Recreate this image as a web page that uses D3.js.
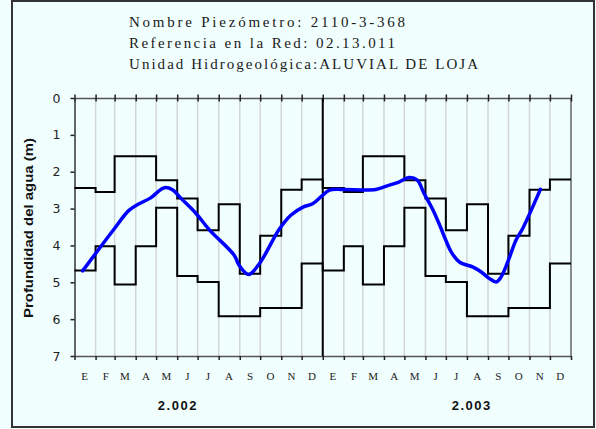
<!DOCTYPE html>
<html>
<head>
<meta charset="utf-8">
<script src="https://cdn.jsdelivr.net/npm/d3@7"></script>
<style>
  body { margin: 0; background: #f2fdfd; }
  svg { display: block; }
</style>
</head>
<body>
<div id="vis"></div>
<script>
var width = 596, height = 429;

// header lines
var titleLines = [
  "Nombre Piezómetro: 2110-3-368",
  "Referencia en la Red: 02.13.011",
  "Unidad Hidrogeológica:ALUVIAL DE LOJA"
];
var titleWidths = [276, 266, 349];

// month initials and years
var months = ["E", "F", "M", "A", "M", "J", "J", "A", "S", "O", "N", "D"];
var years = [2002, 2003];
var yearLabels = ["2.002", "2.003"];

// monthly envelope (same for each year), depth in m
var minDepth = [2.44, 2.55, 1.58, 1.58, 2.23, 2.73, 3.59, 2.88, 4.77, 3.74, 2.49, 2.21];
var maxDepth = [4.68, 4.02, 5.06, 4.02, 2.98, 4.83, 4.99, 5.92, 5.92, 5.70, 5.70, 4.49];

// measured level
var obsDates = ["2002-01-13", "2002-02-28", "2002-03-22", "2002-04-06", "2002-04-23", "2002-05-08",
  "2002-05-15", "2002-05-25", "2002-06-07", "2002-06-29", "2002-07-18", "2002-08-24", "2002-08-31",
  "2002-09-14", "2002-09-30", "2002-10-29", "2002-11-15", "2002-12-03", "2002-12-17", "2002-12-30",
  "2003-01-11", "2003-01-30", "2003-03-20", "2003-04-08", "2003-04-23", "2003-05-08", "2003-05-20",
  "2003-05-30", "2003-06-11", "2003-06-24", "2003-06-29", "2003-07-09", "2003-07-21", "2003-08-10",
  "2003-08-22", "2003-09-03", "2003-09-13", "2003-09-20", "2003-10-01", "2003-10-12", "2003-10-22",
  "2003-11-17"];
var obsDepth = [4.69, 3.56, 3.05, 2.87, 2.71, 2.48,
  2.43, 2.49, 2.73, 3.14, 3.57, 4.27, 4.54,
  4.79, 4.49, 3.56, 3.18, 2.96, 2.87, 2.67,
  2.50, 2.48, 2.48, 2.37, 2.28, 2.16, 2.23,
  2.59, 3.00, 3.54, 3.77, 4.18, 4.45, 4.59,
  4.72, 4.90, 4.99, 4.86, 4.40, 3.86, 3.54,
  2.48];

var yTicks = [0, 1, 2, 3, 4, 5, 6, 7];

var parse = d3.timeParse("%Y-%m-%d");
var plot = {left: 74.5, right: 571, top: 98, bottom: 356};

var x = d3.scaleTime()
  .domain([new Date(2002, 0, 1), new Date(2004, 0, 1)])
  .range([plot.left, plot.right]);
var y = d3.scaleLinear().domain([0, 7]).range([plot.top, plot.bottom]);

var svg = d3.select("#vis").append("svg")
  .attr("width", width).attr("height", height);

svg.append("rect")
  .attr("x", 0).attr("y", 0).attr("width", width).attr("height", height)
  .attr("fill", "#f1fefe");

// outer frame
svg.append("rect")
  .attr("x", 12).attr("y", 1).attr("width", 582).attr("height", 426)
  .attr("fill", "none").attr("stroke", "#333").attr("stroke-width", 2);

// title
svg.selectAll(".title").data(titleLines).enter()
  .append("text")
  .attr("class", "title")
  .attr("x", 129)
  .attr("y", function(d, i) { return 27 + i * 20.8; })
  .attr("textLength", function(d, i) { return titleWidths[i]; })
  .attr("lengthAdjust", "spacing")
  .style("font-family", "'Liberation Serif', serif")
  .style("font-size", "15px")
  .attr("fill", "#1a1a1a")
  .text(function(d) { return d; });

// month boundaries
var monthStarts = d3.timeMonth.range(new Date(2002, 0, 1), new Date(2004, 0, 2));

svg.append("g").selectAll("line").data(monthStarts.slice(1, -1)).enter()
  .append("line")
  .attr("x1", function(d) { return x(d); }).attr("x2", function(d) { return x(d); })
  .attr("y1", plot.top).attr("y2", plot.bottom)
  .attr("stroke", "#d2d6d6").attr("stroke-width", 1.5);

// right border
svg.append("line")
  .attr("x1", plot.right).attr("x2", plot.right)
  .attr("y1", plot.top).attr("y2", plot.bottom)
  .attr("stroke", "#666").attr("stroke-width", 1.5);

// top axis (crossing ticks)
var topAxis = svg.append("g")
  .attr("transform", "translate(0," + plot.top + ")")
  .call(d3.axisTop(x).tickValues(monthStarts).tickSize(3.5).tickSizeOuter(0).tickFormat(""));
topAxis.selectAll(".tick line").attr("y2", -3.5).attr("y1", 3.5)
  .attr("stroke", "#222").attr("stroke-width", 1.5);
topAxis.select(".domain").attr("stroke", "#555").attr("stroke-width", 1.5);

// bottom axis
var botAxis = svg.append("g")
  .attr("transform", "translate(0," + plot.bottom + ")")
  .call(d3.axisBottom(x).tickValues(monthStarts).tickSize(4).tickSizeOuter(0).tickFormat(""));
botAxis.selectAll(".tick line").attr("stroke", "#222").attr("stroke-width", 1.5);
botAxis.select(".domain").attr("stroke", "#555").attr("stroke-width", 1.5);

// left axis
var leftAxis = svg.append("g")
  .attr("transform", "translate(" + plot.left + ",0)")
  .call(d3.axisLeft(y).tickValues(yTicks).tickSize(4).tickSizeOuter(0).tickPadding(10)
    .tickFormat(d3.format("d")));
leftAxis.select(".domain").attr("stroke", "#333").attr("stroke-width", 1.5);
leftAxis.selectAll(".tick line").attr("stroke", "#222").attr("stroke-width", 1.5);
leftAxis.selectAll(".tick text")
  .style("font-family", "'DejaVu Sans', sans-serif")
  .style("font-size", "12.5px")
  .attr("fill", "#222");

// separator between years
svg.append("line")
  .attr("x1", x(new Date(2003, 0, 1))).attr("x2", x(new Date(2003, 0, 1)))
  .attr("y1", plot.top).attr("y2", plot.bottom)
  .attr("stroke", "#000").attr("stroke-width", 2);

// envelope step lines
function stepData(vals) {
  var pts = [];
  years.forEach(function(yr) {
    vals.forEach(function(v, m) { pts.push({date: new Date(yr, m, 1), v: v}); });
  });
  pts.push({date: new Date(2004, 0, 1), v: vals[vals.length - 1]});
  return pts;
}
var stepLine = d3.line()
  .x(function(d) { return x(d.date); })
  .y(function(d) { return y(d.v); })
  .curve(d3.curveStepAfter);

[minDepth, maxDepth].forEach(function(vals) {
  svg.append("path")
    .datum(stepData(vals))
    .attr("d", stepLine)
    .attr("fill", "none")
    .attr("stroke", "#000")
    .attr("stroke-width", 2);
});

// measured series
var obs = obsDates.map(function(d, i) { return {date: parse(d), v: obsDepth[i]}; });
svg.append("path")
  .datum(obs)
  .attr("d", d3.line()
    .x(function(d) { return x(d.date); })
    .y(function(d) { return y(d.v); })
    .curve(d3.curveCatmullRom.alpha(0.5)))
  .attr("fill", "none")
  .attr("stroke", "#0000ff")
  .attr("stroke-width", 3.5)
  .attr("stroke-linecap", "round")
  .attr("stroke-linejoin", "round");

// month labels
var monthMids = [];
years.forEach(function(yr) {
  months.forEach(function(m, i) { monthMids.push({date: new Date(yr, i, 16), label: m}); });
});
svg.selectAll(".month").data(monthMids).enter()
  .append("text")
  .attr("class", "month")
  .attr("x", function(d) { return x(d.date); })
  .attr("y", 380)
  .attr("text-anchor", "middle")
  .style("font-family", "'Liberation Serif', serif")
  .style("font-size", "11px")
  .attr("fill", "#222")
  .text(function(d) { return d.label; });

// year labels
var yearPos = [new Date(2002, 5, 2), new Date(2003, 7, 8)];
svg.selectAll(".year").data(yearLabels).enter()
  .append("text")
  .attr("class", "year")
  .attr("x", function(d, i) { return x(yearPos[i]); })
  .attr("y", 410)
  .attr("text-anchor", "middle")
  .style("font-family", "'Liberation Sans', Arial, sans-serif")
  .style("font-weight", "bold")
  .style("font-size", "13px")
  .style("letter-spacing", "1.5px")
  .attr("fill", "#111")
  .text(function(d) { return d; });

// y axis title
svg.append("text")
  .attr("transform", "translate(33,228) rotate(-90)")
  .attr("text-anchor", "middle")
  .attr("textLength", 180)
  .attr("lengthAdjust", "spacingAndGlyphs")
  .style("font-family", "'Liberation Sans', Arial, sans-serif")
  .style("font-weight", "bold")
  .style("font-size", "12.5px")
  .attr("fill", "#111")
  .text("Profundidad del agua (m)");
</script>
</body>
</html>
